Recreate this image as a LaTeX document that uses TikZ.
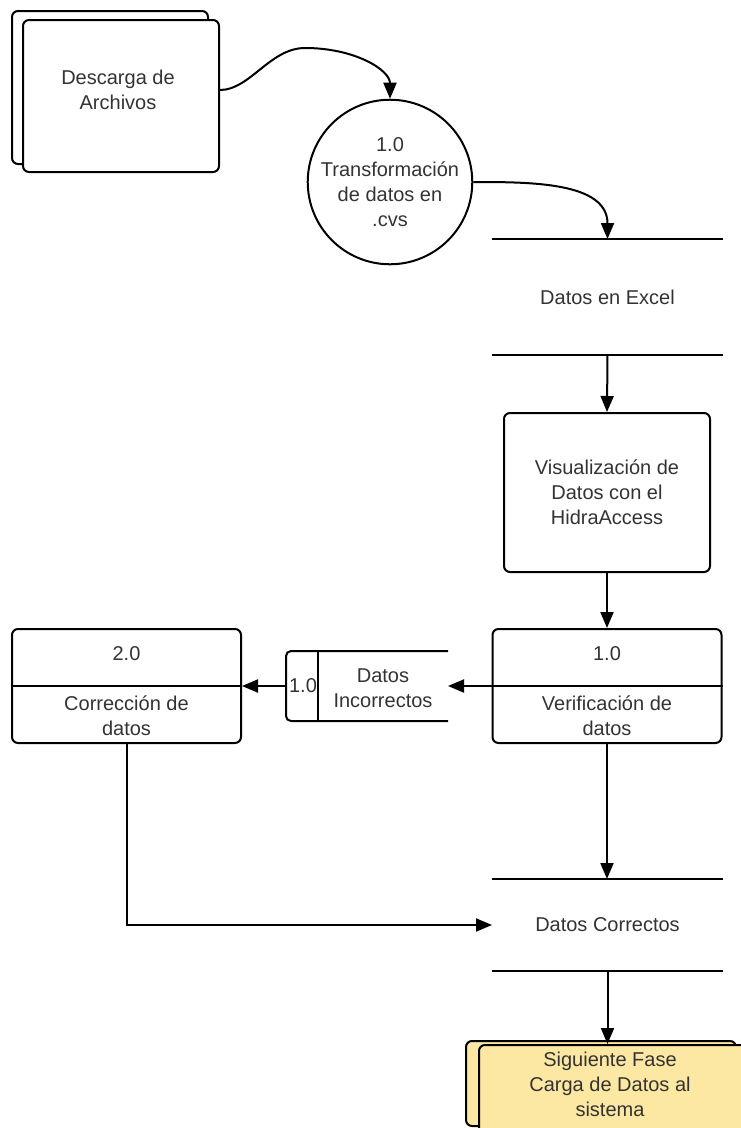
\documentclass[tikz,border=0pt]{standalone}
\usepackage{fontspec}
\setmainfont{Liberation Sans}
\usepackage{tikz}
\usetikzlibrary{arrows.meta,calc,positioning}
\definecolor{notepad}{RGB}{253,232,163}

\begin{document}
\begin{tikzpicture}[
		x=1pt, y=-1pt,
		every node/.style={font=\fontsize{20}{25}\selectfont, text=black!80, align=center},
		box/.style={draw, line width=2pt, rounded corners=6pt, fill=white, inner sep=0pt},
		proc/.style={circle, draw, line width=2pt, minimum size=160pt, inner sep=0pt},
		store/.style={minimum width=229pt, inner sep=0pt},
		line width=2pt,
		->,>={Triangle[length=16pt, width=13pt]}
		]

	\useasboundingbox (0,0) rectangle (741,1128);

	% --- Descarga ---
	\node[box, minimum width=196pt, minimum height=153pt] (descback) at (110,87.5) {};
	\node[box, minimum width=196pt, minimum height=152pt] (desc) at (121,96) {};
	\node (desctxt) at (118,90) {Descarga de\\Archivos};

	\node[proc] (circ) at (390,182) {1.0\\Transformación\\de datos en\\.cvs};

	\draw ([yshift=6pt]desc.east) .. controls (250,90) and (270,48) .. (305,48)
		.. controls (355,48) and (390,70) .. (circ.north);

	% --- Datos en Excel ---
	\node[store, minimum height=114pt] (excel) at (607.5,297) {Datos en Excel};
	\draw[-] (excel.north west) -- (excel.north east) (excel.south west) -- (excel.south east);
	\draw (circ.east) to[out=0, in=90] (excel.north);

	\node[box, minimum width=206pt, minimum height=159pt] (vis) at (607,492.5) {Visualización de\\Datos con el\\HidraAccess};
	\draw (excel.south) -- (vis.north);

	% --- Verificacion ---
	\node[box, minimum width=229pt, minimum height=114pt] (verif) at (607,686) {};
	\draw[-] (verif.west) -- (verif.east);
	\node (verifnum) at (607,654) {1.0};
	\node (veriftxt) at (607,716) {Verificación de\\datos};
	\draw (vis.south) -- (verif.north);

	% --- Datos Incorrectos ---
	\node[minimum width=160pt, minimum height=68pt, inner sep=0pt] (inc) at (367,686) {};
	\draw[-, rounded corners=5pt] (inc.north east) -| (inc.south west) -- (inc.south east);
	\draw[-] ([xshift=32pt]inc.north west) -- ([xshift=32pt]inc.south west);
	\node (incnum) at (303,686) {1.0};
	\node (inctxt) at (383,688) {Datos\\Incorrectos};
	\draw (verif.west) -- (inc.east);

	% --- Correccion ---
	\node[box, minimum width=229pt, minimum height=114pt] (corr) at (126.5,686) {};
	\draw[-] (corr.west) -- (corr.east);
	\node (corrnum) at (126.5,654) {2.0};
	\node (corrtxt) at (126.5,716) {Corrección de\\datos};
	\draw (inc.west) -- (corr.east);

	% --- Datos Correctos ---
	\node[store, minimum height=90pt] (correct) at (607.5,925) {Datos Correctos};
	\draw[-] (correct.north west) -- (correct.north east) (correct.south west) -- (correct.south east);
	\draw (verif.south) -- (verif.south |- correct.north);
	\draw (corr.south) |- (correct.west);

	% --- Siguiente Fase ---
	\node[box, fill=notepad, minimum width=270pt, minimum height=85pt] (nextback) at (601,1083.5) {};
	\node[box, fill=notepad, minimum width=270pt, minimum height=100pt] (nextfront) at (614,1095) {};
	\node (nexttxt) at (610,1084) {Siguiente Fase\\Carga de Datos al\\sistema};
	\draw (correct.south) -- (correct.south |- nextfront.north);

\end{tikzpicture}
\end{document}
